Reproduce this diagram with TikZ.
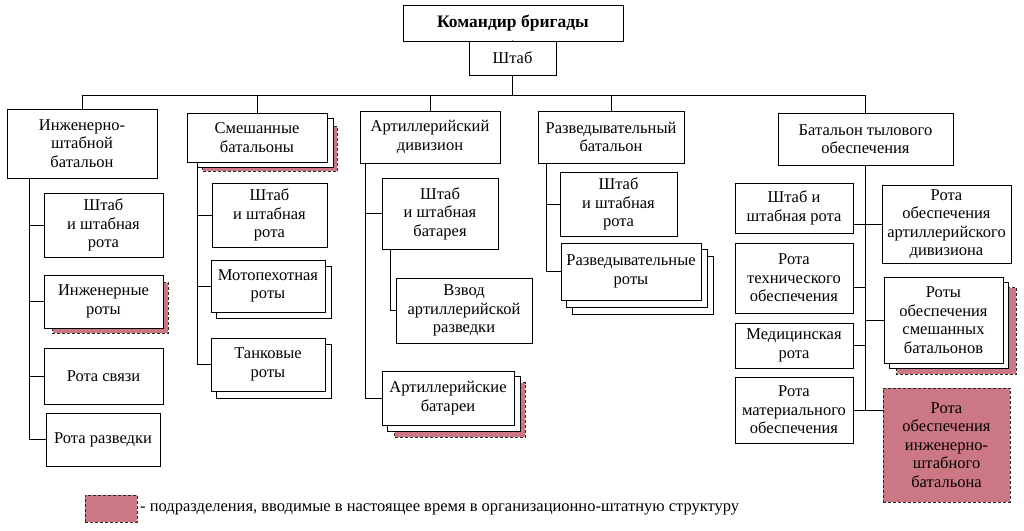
\documentclass[tikz,border=0pt]{standalone}
\usepackage{fontspec}
\setmainfont{Liberation Serif}
\usetikzlibrary{backgrounds,calc}
\definecolor{pinkc}{RGB}{204,120,132}
\begin{document}
\begin{tikzpicture}[x=1pt,y=-1pt,
  every node/.style={font=\fontsize{16.5}{18.5}\selectfont},
  box/.style={draw=black, line width=0.9pt, fill=white, align=center, inner sep=0pt},
  layer/.style={draw=black, line width=0.9pt, fill=white},
  newlayer/.style={draw=black!85, line width=0.9pt, dash pattern=on 3pt off 2pt, fill=pinkc},
  newbox/.style={box, dash pattern=on 3pt off 2pt, draw=black!85, fill=pinkc},
  link/.style={draw=black, line width=0.9pt}]
\useasboundingbox (0,0) rectangle (1024,530);

% top
\node[box, minimum width=220pt, minimum height=36pt, font=\fontsize{17.5}{18.5}\selectfont\bfseries] (cmd) at (513,23) {Командир бригады};
\node[box, minimum width=87pt, minimum height=34pt] (shtab) at (512.5,58) {Штаб};
\coordinate (hub) at (512.5,95);

% battalions
\node[box, minimum width=150pt, minimum height=69pt] (b1) at (82,143.5) {Инженерно-\\штабной\\батальон};
\node[box, minimum width=140pt, minimum height=49pt] (b2) at (257,137.5) {Смешанные\\батальоны};
\node[box, minimum width=140pt, minimum height=52pt] (b3) at (430,137) {Артиллерийский\\дивизион};
\node[box, minimum width=146pt, minimum height=52pt] (b4) at (611,137) {Разведывательный\\батальон};
\node[box, minimum width=175pt, minimum height=52pt] (b5) at (865.5,139) {Батальон тылового\\обеспечения};

% column 1
\node[box, minimum width=119pt, minimum height=64pt] (c11) at (103.5,225) {Штаб\\и штабная\\рота};
\node[box, minimum width=119pt, minimum height=53pt] (c12) at (103.5,301.5) {Инженерные\\роты};
\node[box, minimum width=119pt, minimum height=56pt] (c13) at (103.5,376) {Рота связи};
\node[box, minimum width=114pt, minimum height=53pt] (c14) at (103,439.5) {Рота разведки};

% column 2
\node[box, minimum width=115pt, minimum height=64pt] (c21) at (269.5,215) {Штаб\\и штабная\\рота};
\node[box, minimum width=114pt, minimum height=52pt] (c22) at (268,286) {Мотопехотная\\роты};
\node[box, minimum width=114pt, minimum height=53pt] (c23) at (268,364.5) {Танковые\\роты};

% column 3
\node[box, minimum width=116pt, minimum height=71pt] (c31) at (440,213.5) {Штаб\\и штабная\\батарея};
\node[box, minimum width=136pt, minimum height=65pt] (c32) at (464,310.5) {Взвод\\артиллерийской\\разведки};
\node[box, minimum width=132pt, minimum height=54pt] (c33) at (448,398) {Артиллерийские\\батареи};

% column 4
\node[box, minimum width=117pt, minimum height=64pt] (c41) at (618.5,204) {Штаб\\и штабная\\рота};
\node[box, minimum width=140pt, minimum height=57pt] (c42) at (631,271.5) {Разведывательные\\роты};

% column 5
\node[box, minimum width=118pt, minimum height=50pt] (c51) at (794,208) {Штаб и\\штабная рота};
\node[box, minimum width=118pt, minimum height=70pt] (c53) at (794,278) {Рота\\технического\\обеспечения};
\node[box, minimum width=118pt, minimum height=45pt] (c55) at (794,345.5) {Медицинская\\рота};
\node[box, minimum width=118pt, minimum height=66pt] (c57) at (794,410) {Рота\\материального\\обеспечения};
\node[box, minimum width=129pt, minimum height=78pt] (c52) at (946.5,224) {Рота\\обеспечения\\артиллерийского\\дивизиона};
\node[box, minimum width=119pt, minimum height=86pt] (c54) at (943.5,320) {Роты\\обеспечения\\смешанных\\батальонов};
\node[newbox, minimum width=127pt, minimum height=114pt] (c56) at (946.5,445) {Рота\\обеспечения\\инженерно-\\штабного\\батальона};

% legend
\node[newbox, minimum width=52pt, minimum height=27pt] (leg) at (111,508.5) {};
\node[anchor=west, inner sep=0pt] (legtext) at (140,509) {- подразделения, вводимые в настоящее время в организационно-штатную структуру};

% stacked layers
\begin{pgfonlayer}{background}
  \fill[white] (0,0) rectangle (1024,530);
  \draw[newlayer] ([shift={(16,14)}]b2.north west) rectangle ([shift={(10,9)}]b2.south east);
  \draw[layer] ([shift={(11,6)}]b2.north west) rectangle ([shift={(6,5)}]b2.south east);
  \draw[newlayer] ([shift={(9,8)}]c12.north west) rectangle ([shift={(5,5)}]c12.south east);
  \draw[layer] ([shift={(6,7)}]c22.north west) rectangle ([shift={(6,6)}]c22.south east);
  \draw[layer] ([shift={(6,7)}]c23.north west) rectangle ([shift={(6,7)}]c23.south east);
  \draw[newlayer] ([shift={(13,12)}]c33.north west) rectangle ([shift={(11,12)}]c33.south east);
  \draw[layer] ([shift={(6,6)}]c33.north west) rectangle ([shift={(6,6)}]c33.south east);
  \draw[layer] ([shift={(12,14)}]c42.north west) rectangle ([shift={(12,14)}]c42.south east);
  \draw[layer] ([shift={(6,7)}]c42.north west) rectangle ([shift={(6,7)}]c42.south east);
  \draw[newlayer] ([shift={(13,11)}]c54.north west) rectangle ([shift={(13,11)}]c54.south east);
  \draw[layer] ([shift={(6,6)}]c54.north west) rectangle ([shift={(5,5)}]c54.south east);
\end{pgfonlayer}

% connectors
\draw[link] (cmd.south) -- (shtab.north);
\draw[link] (shtab.south) -- (hub);
\draw[link] (hub) -| (b1.north);
\draw[link] (hub) -| (b2.north);
\draw[link] (hub) -| (b3.north);
\draw[link] (hub) -| (b4.north);
\draw[link] (hub) -| (b5.north);

\coordinate (t1) at (29,178);
\draw[link] (t1) |- (c11.west);
\draw[link] (t1) |- (c12.west);
\draw[link] (t1) |- (c13.west);
\draw[link] (t1) |- (c14.west);

\coordinate (t2) at (197,162);
\draw[link] (t2) |- (c21.west);
\draw[link] (t2) |- (c22.west);
\draw[link] (t2) |- (c23.west);

\coordinate (t3) at (365,163);
\draw[link] (t3) |- (c31.west);
\draw[link] (t3) |- (c33.west);
\coordinate (t3b) at (390,249);
\draw[link] (t3b) |- (c32.west);

\coordinate (t4) at (546,163);
\draw[link] (t4) |- (c41.west);
\draw[link] (t4) |- (c42.west);

\draw[link] (b5.south) -- (b5.south |- c57.east);
\draw[link] (c52.west -| c51.east) -- (c52.west);
\draw[link] ($(c53.east)+(0,9)$) -- ($(c53.east -| b5.south)+(0,9)$);
\draw[link] (c54.west) -- (c54.west -| b5.south);
\draw[link] (c55.east) -- (c55.east -| b5.south);
\draw[link] (c57.east) -- (c57.east -| c56.west);
\end{tikzpicture}
\end{document}
